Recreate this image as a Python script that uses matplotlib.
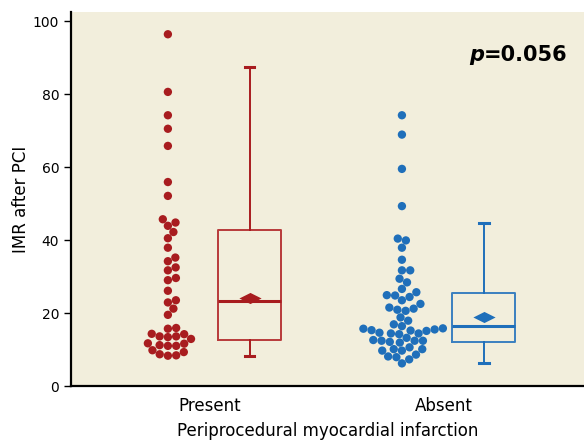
import numpy as np
import matplotlib
matplotlib.use("Agg")
from matplotlib import pyplot as plt
from matplotlib import font_manager
from matplotlib.path import Path
from matplotlib.offsetbox import AnchoredOffsetbox, HPacker, TextArea

groups = ["Present", "Absent"]
colors = ["#a81c1f", "#1f6fba"]
box_colors = ["#b83a3a", "#3a7fc0"]

present = [96.4, 80.6, 74.2, 70.5, 65.8, 55.9, 52.1, 45.7, 44.8, 43.9, 42.2, 40.5,
           37.9, 35.2, 34.2, 32.5, 31.7, 29.6, 29.0, 26.1, 23.5, 22.9, 21.2, 19.5,
           15.7, 15.9, 14.2, 14.3, 13.4, 13.6, 13.6, 12.9, 11.6, 11.0, 11.2, 11.0,
           11.7, 9.3, 8.4, 8.3, 8.7, 9.8]
absent = [74.2, 68.9, 59.5, 49.3, 39.9, 40.4, 37.9, 34.6, 31.7, 31.7, 29.4, 28.4,
          26.6, 25.7, 24.9, 24.4, 24.8, 23.5, 22.5, 21.2, 21.5, 20.6, 20.9, 18.8,
          17.9, 16.9, 16.4, 15.7, 15.3, 15.2, 15.8, 14.4, 14.2, 14.6, 14.4, 15.5,
          15.1, 12.4, 12.6, 12.1, 11.9, 12.4, 12.4, 13.2, 10.6, 9.7, 10.1, 8.6,
          9.7, 10.1, 7.9, 7.3, 8.1, 6.2]

# box summary: whisker low, q1, median, q3, whisker high, mean
box_stats = {
    "Present": dict(whislo=8.3, q1=12.6, med=23.3, q3=42.7, whishi=87.5, mean=24.2),
    "Absent": dict(whislo=6.3, q1=12.1, med=16.4, q3=25.4, whishi=44.7, mean=18.8),
}

available = {f.name for f in font_manager.fontManager.ttflist}
family = "Liberation Sans Narrow" if "Liberation Sans Narrow" in available else "DejaVu Sans"
plt.rcParams["font.family"] = family


def swarm_offsets(values, ax, diameter_px):
    # simple beeswarm in pixel space: place each point as close to center as possible
    order = np.argsort(values)
    ys = ax.transData.transform(np.column_stack([np.zeros(len(values)), values]))[:, 1]
    placed = []
    offsets = np.zeros(len(values))
    for i in order:
        y = ys[i]
        candidates = [0.0]
        for (px, py) in placed:
            dy = y - py
            if abs(dy) < diameter_px:
                dx = np.sqrt(diameter_px ** 2 - dy ** 2)
                candidates += [px + dx, px - dx]
        candidates.sort(key=abs)
        for c in candidates:
            ok = all((c - px) ** 2 + (y - py) ** 2 >= diameter_px ** 2 - 1e-6 for px, py in placed)
            if ok:
                offsets[i] = c
                placed.append((c, y))
                break
    return offsets


fig = plt.figure(figsize=(5.84, 4.43), dpi=100)
ax = fig.add_axes([71 / 584, 1 - 386 / 443, 1 - 71 / 584, (386 - 12) / 443])
ax.set_facecolor("#f2eedc")
ax.set_xlim(-0.594, 1.598)
ax.set_ylim(0, 102.5)

px_per_unit = 234.0
diameter = 8.3
diamond = Path([(-1, 0), (0, 0.5), (1, 0), (0, -0.5), (-1, 0)],
               [Path.MOVETO, Path.LINETO, Path.LINETO, Path.LINETO, Path.CLOSEPOLY])

for i, (name, vals) in enumerate(zip(groups, [present, absent])):
    vals = np.array(vals)
    offs = swarm_offsets(vals, ax, diameter)
    ax.scatter(i - 0.18 + offs / px_per_unit, vals, s=36, color=colors[i],
               edgecolors="none", zorder=3)

    st = dict(box_stats[name])
    mean = st.pop("mean")
    ax.bxp([st], positions=[i + 0.17], widths=0.27, showfliers=False,
           boxprops=dict(color=box_colors[i], linewidth=1.4),
           whiskerprops=dict(color=colors[i], linewidth=1.4),
           capprops=dict(color=colors[i], linewidth=2.2),
           medianprops=dict(color=colors[i], linewidth=2.2),
           capwidths=0.04)
    ax.plot([i + 0.17], [mean], marker=diamond, markersize=16, color=colors[i],
            markeredgewidth=0, zorder=4)

ax.set_xticks([0, 1])
ax.set_xticklabels(groups, fontsize=12)
ax.tick_params(axis="x", length=0, pad=8)
ax.set_yticks([0, 20, 40, 60, 80, 100])
ax.tick_params(axis="y", labelsize=10, length=5, width=1)
ax.set_ylabel("IMR after PCI", fontsize=12, labelpad=2)
ax.set_xlabel("Periprocedural myocardial infarction", fontsize=12, labelpad=5)

for side in ["top", "right"]:
    ax.spines[side].set_visible(False)
for side in ["left", "bottom"]:
    ax.spines[side].set_linewidth(1.6)
    ax.spines[side].set_color("black")

p_text = HPacker(children=[
    TextArea("p", textprops=dict(fontsize=15, fontweight="bold", fontstyle="italic")),
    TextArea("=0.056", textprops=dict(fontsize=15, fontweight="bold")),
], align="baseline", pad=0, sep=0)
anchored = AnchoredOffsetbox(loc="center right", child=p_text, frameon=False,
                             bbox_to_anchor=(0.968, 0.885), bbox_transform=ax.transAxes,
                             borderpad=0, pad=0)
ax.add_artist(anchored)

fig.savefig("out.png", dpi=100)
